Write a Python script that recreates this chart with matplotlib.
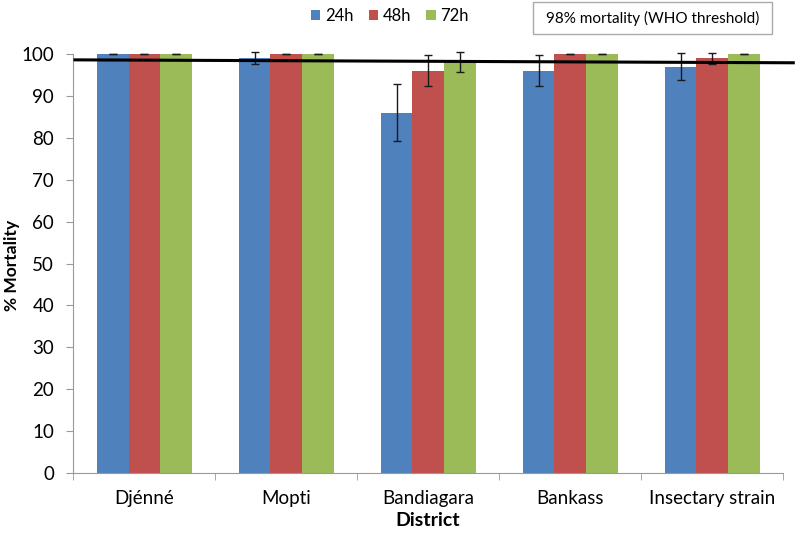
import matplotlib
matplotlib.use("Agg")
import matplotlib.pyplot as plt
import numpy as np
from matplotlib.patches import Rectangle

plt.rcParams['font.family'] = ['Lato', 'DejaVu Sans']

districts = ["Djénné", "Mopti", "Bandiagara", "Bankass", "Insectary strain"]
series = ["24h", "48h", "72h"]
vals_24 = [100, 99, 86, 96, 97]
vals_48 = [100, 100, 96, 100, 99]
vals_72 = [100, 100, 98, 100, 100]
err_24 = [0, 1.5, 6.8, 3.7, 3.2]
err_48 = [0, 0, 3.7, 0, 1.3]
err_72 = [0, 0, 2.4, 0, 0]
colors = ["#4F81BD", "#C0504D", "#9BBB59"]
threshold_start, threshold_end = 98.6, 97.9
yticks = list(range(0, 101, 10))

fig = plt.figure(figsize=(7.97, 5.34), dpi=100)
ax = fig.add_axes([0.0922, 0.1142, 0.8908, 0.7847])

x = np.arange(len(districts))
w = 0.225
allv = [vals_24, vals_48, vals_72]
alle = [err_24, err_48, err_72]
for i, (v, e, c, s) in enumerate(zip(allv, alle, colors, series)):
    pos = x + (i - 1) * w
    ax.bar(pos, v, width=w, color=c, label=s, zorder=2)
    ax.errorbar(pos, v, yerr=e, fmt='none', ecolor='#1a1a1a', elinewidth=1.0,
                capsize=3, capthick=1.0, zorder=3, clip_on=False)

ax.plot([-0.5, 4.58], [threshold_start, threshold_end], color='black', lw=2.2,
        zorder=4, clip_on=False, solid_capstyle='butt')

ax.set_xlim(-0.5, 4.5)
ax.set_ylim(0, 100)
ax.set_yticks(yticks)
ax.set_xticks(x)
ax.set_xticklabels(districts, fontsize=13.5)
ax.set_xticks(np.arange(-0.5, 5, 1), minor=True)
ax.tick_params(axis='x', which='major', length=0, pad=12)
ax.tick_params(axis='x', which='minor', length=5, color='#999999')
ax.tick_params(axis='y', length=5, color='#999999', labelsize=13.5, pad=9)
for sp in ['top', 'right']:
    ax.spines[sp].set_visible(False)
for sp in ['left', 'bottom']:
    ax.spines[sp].set_color('#999999')

fig.text(428 / 797, 1 - 521 / 534, "District", fontsize=14, fontweight='bold',
         ha='center', va='center')
fig.text(12 / 797, 1 - 265 / 534, "% Mortality", fontsize=12.5, fontweight='bold',
         ha='center', va='center', rotation=90)

leg = fig.legend(loc='center', bbox_to_anchor=(390 / 797, 1 - 16 / 534), ncol=3,
                 frameon=False, fontsize=12, handlelength=0.55, handleheight=0.55,
                 handletextpad=0.3, columnspacing=0.9)

fig.patches.append(Rectangle((533 / 797, 1 - 34 / 534), 239 / 797, 32 / 534,
                             transform=fig.transFigure, fill=False,
                             edgecolor='#aaaaaa', lw=1.0))
fig.text((533 + 239 / 2) / 797, 1 - 18 / 534, "98% mortality (WHO threshold)",
         ha='center', va='center', fontsize=11)

fig.savefig("out.png", dpi=100)
